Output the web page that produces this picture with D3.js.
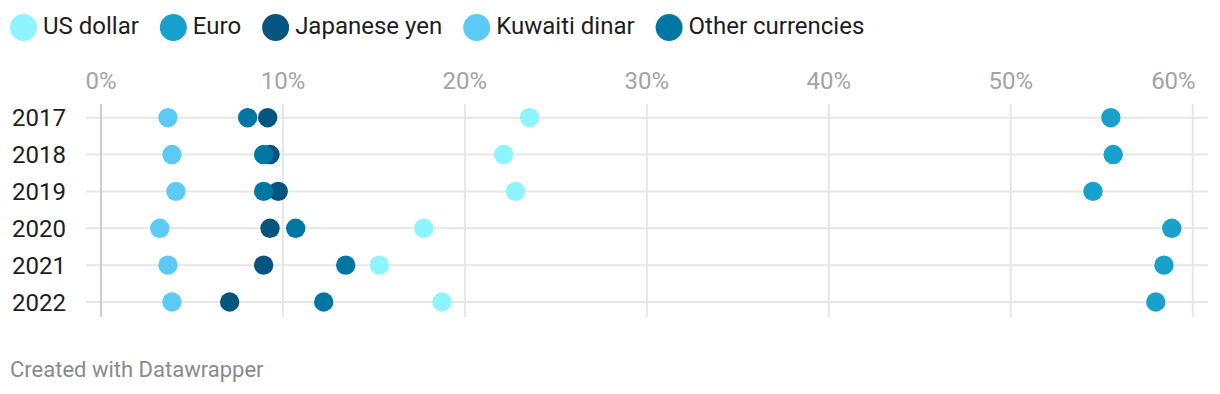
<!DOCTYPE html>
<html>
<head>
<meta charset="utf-8">
<script src="https://cdn.jsdelivr.net/npm/d3@7"></script>
<style>
body { margin: 0; background: #fff; }
svg text { font-family: Roboto, sans-serif; }
</style>
</head>
<body>
<div id="body"></div>
<script>
// data
let years = ['2017', '2018', '2019', '2020', '2021', '2022']
let currencies = ['US dollar', 'Euro', 'Japanese yen', 'Kuwaiti dinar', 'Other currencies']
let usDollar = [23.56, 22.13, 22.78, 17.74, 15.3, 18.74]
let euro = [55.5, 55.63, 54.52, 58.85, 58.42, 57.97]
let yen = [9.16, 9.29, 9.74, 9.29, 8.94, 7.07]
let kuwaiti = [3.68, 3.9, 4.12, 3.23, 3.68, 3.9]
let other = [8.06, 8.94, 8.94, 10.7, 13.45, 12.24]
let ticks = [0, 10, 20, 30, 40, 50, 60]
let colors = ['#8ef4ff', '#18a1cd', '#05557f', '#5bcbf6', '#0077a3']

let series = [usDollar, euro, yen, kuwaiti, other]

let size = { width: 1220, height: 394 }

let svg = d3.select('#body')
.append('svg')
.attr('width', size.width)
.attr('height', size.height)

//scales
let xScale = d3.scaleLinear()
.domain([0, 60])
.range([101, 1192.7])
let yScale = d3.scalePoint()
.domain(years)
.range([117.7, 302])

//gridlines
svg.append('g')
.selectAll('line')
.data(years)
.join('line')
.attr('x1', 86)
.attr('x2', 1208)
.attr('y1', d => yScale(d))
.attr('y2', d => yScale(d))
.attr('stroke', '#e6e6e6')
.attr('stroke-width', 2)

svg.append('g')
.selectAll('line')
.data(ticks)
.join('line')
.attr('x1', d => xScale(d))
.attr('x2', d => xScale(d))
.attr('y1', 104)
.attr('y2', 317)
.attr('stroke', d => d == 0 ? '#cccccc' : '#e6e6e6')
.attr('stroke-width', 2)

//tick labels (last one kept inside the chart)
svg.append('g')
.selectAll('text')
.data(ticks)
.join('text')
.attr('x', d => d == 60 ? xScale(d) + 3 : xScale(d))
.attr('y', 89)
.attr('text-anchor', d => d == 60 ? 'end' : 'middle')
.attr('fill', '#a3a3a3')
.style('font-size', '24px')
.text(d => d + '%')

//year labels
svg.append('g')
.selectAll('text')
.data(years)
.join('text')
.attr('x', 12)
.attr('y', d => yScale(d))
.attr('dy', '0.36em')
.attr('fill', '#1d1d1d')
.style('font-size', '24px')
.text(d => d)

//dots
series.forEach((vals, s) => {
svg.append('g')
.selectAll('circle')
.data(vals)
.join('circle')
.attr('cx', d => xScale(d))
.attr('cy', (d, i) => yScale(years[i]))
.attr('r', 9.7)
.attr('fill', colors[s])
})

//legend
let lx = 10
currencies.forEach((c, i) => {
svg.append('circle')
.attr('cx', lx + 13.5)
.attr('cy', 27.5)
.attr('r', 13.5)
.attr('fill', colors[i])
let t = svg.append('text')
.attr('x', lx + 33)
.attr('y', 34)
.attr('fill', '#1d1d1d')
.style('font-size', '24px')
.text(c)
lx = lx + 33 + t.node().getComputedTextLength() + 21
})

svg.append('text')
.attr('x', 10)
.attr('y', 377)
.attr('fill', '#8a8a8a')
.style('font-size', '22px')
.text('Created with Datawrapper')
</script>
</body>
</html>
